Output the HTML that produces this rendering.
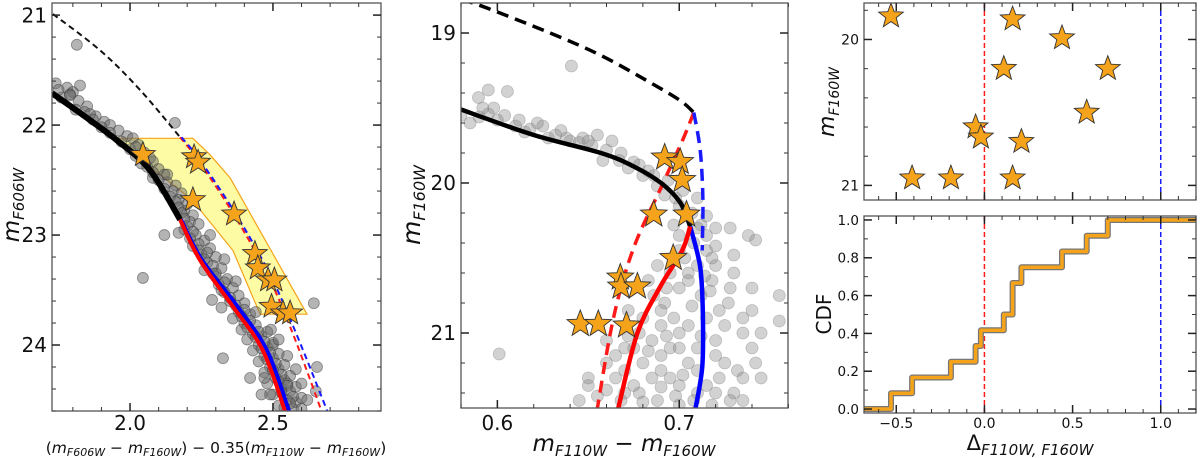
<!DOCTYPE html>
<html><head><meta charset="utf-8"><style>
body{margin:0;background:#fff}
svg{display:block;font-family:"DejaVu Sans","Liberation Sans",sans-serif}
</style></head><body>
<svg id="fig" width="1200" height="458" viewBox="0 0 1200 458" xmlns="http://www.w3.org/2000/svg"></svg>
<script>
// ---------- DATA ----------
const leftStarsX=[2.045,2.224,2.238,2.22,2.364,2.437,2.447,2.483,2.505,2.495,2.535,2.56];
const leftStarsY=[22.27,22.29,22.34,22.68,22.81,23.17,23.30,23.41,23.41,23.65,23.71,23.71];
const leftPts=[[1.74,21.62],[1.78,21.66],[1.80,21.70],[1.76,21.75],[1.82,21.78],[1.85,21.83],[1.84,21.88],[1.79,21.72],[1.88,21.92],[1.91,21.97],[1.93,22.0],[1.96,22.05],[1.99,22.1],[2.01,22.12],[2.03,22.18],[2.0,22.22],[2.05,22.25],[2.07,22.3],[2.04,22.35],[2.1,22.4],[2.12,22.45],[2.08,22.48],[2.13,22.52],[2.16,22.55],[2.15,22.6],[2.18,22.62],[2.17,22.68],[2.2,22.72],[2.19,22.78],[2.22,22.82],[2.21,22.88],[2.24,22.9],[2.19,22.95],[2.23,23.0],[2.26,23.05],[2.22,23.1],[2.28,23.12],[2.25,23.18],[2.3,23.2],[2.27,23.25],[2.32,23.3],[2.26,23.32],[2.3,23.38],[2.34,23.4],[2.31,23.45],[2.36,23.48],[2.33,23.52],[2.38,23.55],[2.35,23.6],[2.4,23.62],[2.32,23.66],[2.38,23.7],[2.42,23.72],[2.36,23.76],[2.4,23.8],[2.44,23.82],[2.39,23.86],[2.43,23.9],[2.46,23.92],[2.41,23.95],[2.45,24.0],[2.48,24.02],[2.43,24.05],[2.47,24.1],[2.5,24.12],[2.45,24.15],[2.49,24.2],[2.52,24.22],[2.47,24.25],[2.51,24.3],[2.54,24.32],[2.48,24.35],[2.53,24.4],[2.56,24.42],[2.5,24.45],[2.55,24.5],[2.58,24.52],[2.52,24.55],[2.57,24.58],[2.6,24.48],[2.58,24.38],[2.56,24.28],[2.54,24.18],[2.52,24.08],[2.5,23.98],[2.48,23.88],[2.28,23.0],[2.33,23.22],[2.37,23.42],[2.29,23.35],[2.44,23.7],[2.5,24.0],[2.55,24.35],[2.42,24.3],[2.46,24.45],[2.6,24.58],
[1.75,21.68],[1.79,21.73],[1.81,21.86],[1.86,21.9],[1.87,21.95],[1.90,22.02],[1.93,22.07],[1.97,22.15],[2.02,22.2],[2.02,22.28],[2.08,22.33],[2.06,22.38],[2.08,22.43],[2.1,22.5],[2.12,22.58],[2.14,22.65],[2.16,22.7],[2.17,22.75],[2.18,22.8],[2.19,22.85],[2.2,22.92],[2.22,22.97],[2.21,23.03],[2.24,23.08],[2.24,23.14],[2.27,23.16],[2.26,23.22],[2.29,23.28],[2.3,23.35],[2.33,23.43],[2.32,23.5],[2.35,23.57],[2.37,23.64],[2.4,23.68],[2.39,23.74],[2.42,23.78],[2.41,23.84],[2.45,23.88],[2.44,23.93],[2.47,23.97],[2.46,24.03],[2.49,24.07],[2.48,24.13],[2.51,24.17],[2.5,24.23],[2.53,24.27],[2.52,24.33],[2.55,24.37],[2.53,24.43],[2.57,24.47],[2.56,24.53],[2.54,24.57],[2.62,24.5],[2.6,24.35],[2.58,24.22],[2.55,24.1],[2.52,23.95],[2.49,24.45],[2.47,24.3],
[1.814,21.27],[1.825,21.64],[2.157,21.98],[2.13,22.45],[2.12,23.0],[2.045,23.39],[2.17,22.98],[2.287,23.59],[2.325,24.12],[2.493,23.86],[2.643,23.62],[2.654,24.2],[2.65,24.42]];
const leftBlackSolid=[[1.727,21.71],[1.836,21.91],[1.955,22.14],[2.07,22.41],[2.175,22.86]];
const leftRedSolid=[[2.175,22.86],[2.245,23.23],[2.36,23.65],[2.465,24.05],[2.542,24.6]];
const leftBlueSolid=[[2.178,22.86],[2.25,23.22],[2.37,23.63],[2.479,24.05],[2.556,24.6]];
const leftBlackDash=[[1.73,20.99],[1.895,21.32],[2.035,21.68],[2.175,22.11]];
const leftRedDash=[[2.175,22.11],[2.238,22.32],[2.36,22.8],[2.479,23.35],[2.57,23.9],[2.67,24.6]];
const leftBlueDash=[[2.18,22.11],[2.245,22.32],[2.368,22.8],[2.488,23.35],[2.582,23.9],[2.69,24.6]];
const leftBox=[[1.958,22.12],[2.22,22.12],[2.28,22.27],[2.35,22.48],[2.619,23.72],[2.455,23.72],[2.36,23.14],[2.217,22.68],[2.094,22.43]];
const midStarsX=[0.692,0.7005,0.7016,0.686,0.704,0.6967,0.6676,0.668,0.677,0.6456,0.6555,0.671];
const midStarsY=[19.83,19.86,19.98,20.21,20.21,20.5,20.63,20.69,20.69,20.94,20.94,20.95];
const midPts=[[0.585,19.6],[0.59,19.56],[0.595,19.54],[0.6,19.58],[0.598,19.5],[0.604,19.55],[0.61,19.62],[0.595,19.38],[0.6055,19.39],[0.5896,19.43],[0.615,19.66],[0.622,19.6],[0.628,19.7],[0.635,19.65],[0.64,19.72],[0.647,19.7],[0.652,19.75],[0.655,19.68],[0.66,19.78],[0.663,19.72],[0.658,19.85],[0.668,19.8],[0.672,19.9],[0.675,19.86],[0.68,19.95],[0.683,19.92],[0.688,20.02],[0.692,20.08],[0.694,19.98],[0.698,20.1],[0.7,20.15],[0.702,20.05],[0.707,20.2],[0.71,20.1],[0.712,20.28],[0.715,20.22],[0.697,20.28],[0.6407,19.22],[0.601,21.14],
[0.612,19.58],[0.618,19.64],[0.625,19.62],[0.632,19.68],[0.638,19.7],[0.645,19.73],[0.65,19.72],[0.667,19.85],[0.678,19.88],[0.686,19.95],[0.58,19.55],[0.592,19.5],
[0.66,21.2],[0.665,21.3],[0.67,21.25],[0.675,21.1],[0.68,21.2],[0.685,21.05],[0.69,21.15],[0.695,21.3],[0.7,21.0],[0.705,21.2],[0.71,21.1],[0.715,21.35],[0.72,21.05],[0.725,21.2],[0.73,21.4],[0.735,21.0],[0.74,21.1],[0.745,21.3],[0.65,21.35],[0.655,21.42],[0.645,21.45],[0.668,21.45],[0.678,21.4],[0.688,21.45],[0.698,21.42],[0.708,21.45],[0.718,21.48],[0.728,21.45],[0.692,20.8],[0.7,20.7],[0.705,20.6],[0.712,20.75],[0.718,20.65],[0.722,20.85],[0.728,20.7],[0.735,20.9],[0.69,20.95],[0.68,20.9],[0.686,20.75],[0.695,20.6],[0.703,20.5],[0.708,20.4],[0.715,20.45],[0.72,20.55],[0.73,20.6],[0.738,20.35],[0.742,20.38],[0.755,20.92],[0.745,21.0],[0.678,21.0],[0.672,20.85],[0.688,20.55],[0.685,21.3],[0.675,21.35],[0.695,21.1],[0.705,20.95],[0.715,20.9],[0.725,20.95],[0.732,21.25],[0.7,21.35],[0.71,21.25],[0.66,21.05],[0.72,20.3],[0.715,20.35],[0.72,21.15],[0.735,21.3],[0.69,21.25],[0.7,21.1],
[0.665,21.15],[0.672,21.02],[0.683,21.12],[0.693,21.02],[0.702,21.28],[0.712,21.02],[0.722,21.3],[0.697,20.9],[0.707,20.82],[0.717,20.72],[0.727,20.8],[0.683,20.65],[0.693,20.7],[0.7,20.45],[0.71,20.55],[0.718,20.5],[0.73,20.48],[0.74,20.7],[0.74,20.85],[0.65,21.3],[0.66,21.38],[0.67,21.4],[0.68,21.46],[0.69,21.36],[0.7,21.48],[0.71,21.4],[0.72,21.4],[0.735,21.45],[0.742,21.2],[0.67,21.1],[0.69,20.85],[0.705,20.65],[0.714,20.62],[0.7,20.35],[0.72,20.42],[0.71,20.3],[0.728,20.3],[0.755,20.75]];
const midBlackDash=[[0.58,18.79],[0.589,18.81],[0.629,19.0],[0.657,19.15],[0.684,19.33],[0.7005,19.45],[0.708,19.53]];
const midRedDash=[[0.708,19.53],[0.702,19.71],[0.69,20.03],[0.675,20.43],[0.664,20.89],[0.655,21.5]];
const midBlueDash=[[0.708,19.53],[0.7115,19.78],[0.713,20.11],[0.7126,20.45]];
const midBlackSolid=[[0.58,19.51],[0.62,19.68],[0.657,19.80],[0.675,19.89],[0.69,20.0],[0.7005,20.13],[0.706,20.29]];
const midRedSolid=[[0.706,20.29],[0.7016,20.45],[0.6896,20.69],[0.677,21.0],[0.6665,21.5]];
const midBlueSolid=[[0.706,20.29],[0.7115,20.56],[0.713,20.89],[0.7126,21.23],[0.709,21.5]];
const deltaVals=[-0.53,0.16,0.44,0.11,0.70,0.58,-0.05,-0.02,0.21,-0.41,-0.19,0.16];
const deltaMags=[19.84,19.86,19.99,20.2,20.2,20.5,20.6,20.67,20.7,20.95,20.95,20.95];
const xTicksLeft=[2.0,2.5], yTicksLeft=[21,22,23,24];
const xTicksMid=[0.6,0.7], yTicksMid=[19,20,21];
const xTicksRight=[-0.5,0.0,0.5,1.0], yTicksRT=[20,21], yTicksRB=[0.0,0.2,0.4,0.6,0.8,1.0];

// ---------- HELPERS ----------
const NS="http://www.w3.org/2000/svg";
const svg=document.getElementById('fig');
function mk(tag,attrs,parent){const e=document.createElementNS(NS,tag);for(const k in attrs)e.setAttribute(k,attrs[k]);(parent||svg).appendChild(e);return e;}
function lin(d0,d1,r0,r1){return v=>r0+(v-d0)*(r1-r0)/(d1-d0);}
function pathD(pts,sx,sy){return pts.map((p,i)=>(i?'L':'M')+sx(p[0]).toFixed(1)+' '+sy(p[1]).toFixed(1)).join(' ');}
function smoothD(pts,sx,sy){const P=pts.map(p=>[sx(p[0]),sy(p[1])]);let d='M'+P[0][0].toFixed(1)+' '+P[0][1].toFixed(1);
  for(let i=0;i<P.length-1;i++){const p0=P[i-1]||P[i],p1=P[i],p2=P[i+1],p3=P[i+2]||P[i+1];
    const c1=[p1[0]+(p2[0]-p0[0])/6,p1[1]+(p2[1]-p0[1])/6],c2=[p2[0]-(p3[0]-p1[0])/6,p2[1]-(p3[1]-p1[1])/6];
    d+=' C'+c1.map(v=>v.toFixed(1)).join(' ')+' '+c2.map(v=>v.toFixed(1)).join(' ')+' '+p2[0].toFixed(1)+' '+p2[1].toFixed(1);}return d;}
function starD(cx,cy,R){const r=R*0.42;let d='';for(let i=0;i<10;i++){const a=-Math.PI/2+i*Math.PI/5;const rr=i%2?r:R;d+=(i?'L':'M')+(cx+rr*Math.cos(a)).toFixed(1)+' '+(cy+rr*Math.sin(a)).toFixed(1);}return d+'Z';}
function frame(g,x0,y0,x1,y1,name){const r=mk('rect',{x:x0,y:y0,width:x1-x0,height:y1-y0,fill:'none',stroke:'#555','stroke-width':1.3},g);}
function ticksX(g,sx,y0,y1,majors,minorStart,minorEnd,minorStep,fs,lblY,fmt,both){
  for(let v=minorStart;v<=minorEnd+1e-9;v+=minorStep){const x=sx(v);mk('line',{x1:x,x2:x,y1:y1,y2:y1-4,stroke:'#333','stroke-width':1},g);if(both)mk('line',{x1:x,x2:x,y1:y0,y2:y0+4,stroke:'#333','stroke-width':1},g);}
  majors.forEach(v=>{const x=sx(v);mk('line',{x1:x,x2:x,y1:y1,y2:y1-8,stroke:'#222','stroke-width':1.5},g);if(both)mk('line',{x1:x,x2:x,y1:y0,y2:y0+8,stroke:'#222','stroke-width':1.5},g);
    if(lblY){const t=mk('text',{x:x,y:lblY,'font-size':fs,'text-anchor':'middle',fill:'#111'},g);t.textContent=fmt(v);}});
}
function ticksY(g,sy,x0,x1,majors,minorStart,minorEnd,minorStep,fs,fmt){
  for(let v=minorStart;v<=minorEnd+1e-9;v+=minorStep){const y=sy(v);mk('line',{x1:x0,x2:x0+4,y1:y,y2:y,stroke:'#333','stroke-width':1},g);mk('line',{x1:x1,x2:x1-4,y1:y,y2:y,stroke:'#333','stroke-width':1},g);}
  majors.forEach(v=>{const y=sy(v);mk('line',{x1:x0,x2:x0+8,y1:y,y2:y,stroke:'#222','stroke-width':1.5},g);mk('line',{x1:x1,x2:x1-8,y1:y,y2:y,stroke:'#222','stroke-width':1.5},g);
    const t=mk('text',{x:x0-5,y:y+fs*0.36,'font-size':fs,'text-anchor':'end',fill:'#111'},g);t.textContent=fmt(v);});
}
function line(g,pts,sx,sy,col,w,dash,name,smooth){const p=mk('path',{d:smooth?smoothD(pts,sx,sy):pathD(pts,sx,sy),fill:'none',stroke:col,'stroke-width':w,'stroke-linejoin':'round'},g);if(dash)p.setAttribute('stroke-dasharray',dash);}
function stars(g,xs,ys,sx,sy,R){xs.forEach((v,i)=>{const s=mk('path',{d:starD(sx(v),sy(ys[i]),R),fill:'#f5a31a',stroke:'#333','stroke-width':0.9},g);});}
function clip(id,x0,y0,x1,y1){const c=mk('clipPath',{id:id});mk('rect',{x:x0,y:y0,width:x1-x0,height:y1-y0},c);}

// ---------- LEFT PANEL ----------
(function(){
  const X0=52,X1=381,Y0=3,Y1=411;
  const sx=lin(1.727,2.878,X0,X1), sy=lin(20.89,24.6,Y0,Y1);
  const g=mk('g',{});
  clip('cl',X0,Y0,X1,Y1);
  const c=mk('g',{'clip-path':'url(#cl)'},g);
  const box=mk('path',{d:pathD(leftBox,sx,sy)+'Z',fill:'#fdfb9a','fill-opacity':0.9,stroke:'#f5a31a','stroke-width':1.2},c);
  
  leftPts.forEach(p=>{const e=mk('circle',{cx:sx(p[0]),cy:sy(p[1]),r:5.5,fill:'#6a6a6a','fill-opacity':0.5,stroke:'#333','stroke-opacity':0.5,'stroke-width':0.8},c);});
  line(c,leftBlackDash,sx,sy,'#111',2,'6,4','black-dashed-isochrone',true);
  line(c,leftRedDash,sx,sy,'#ff1a1a',2,'6,4','red-dashed-isochrone',true);
  line(c,leftBlueDash,sx,sy,'#1a1aff',2,'6,4','blue-dashed-isochrone',true);
  line(c,leftBlackSolid,sx,sy,'#000',6,null,'black-isochrone',true);
  line(c,leftBlueSolid,sx,sy,'#0000ff',4,null,'blue-isochrone',true);
  line(c,leftRedSolid,sx,sy,'#ff0000',4,null,'red-isochrone',true);
  stars(c,leftStarsX,leftStarsY,sx,sy,13);
  frame(g,X0,Y0,X1,Y1,'left-plot-frame');
  ticksX(g,sx,Y0,Y1,xTicksLeft,1.8,2.8,0.1,20,430,v=>v.toFixed(1),true);
  ticksY(g,sy,X0,X1,yTicksLeft,21,24.6,0.2,20,v=>String(v));
  const yl=mk('text',{x:0,y:0,'font-size':23,transform:'translate(19,205) rotate(-90)','text-anchor':'middle',fill:'#111'},g);
  yl.innerHTML='<tspan font-style="italic">m</tspan><tspan font-size="15" font-style="italic" dy="5">F606W</tspan>';
  
  const xl=mk('text',{x:216,y:453,'font-size':15.5,'text-anchor':'middle',fill:'#111'},g);
  xl.innerHTML='(<tspan font-style="italic">m</tspan><tspan font-size="11" font-style="italic" dy="3">F606W</tspan><tspan dy="-3"> − </tspan><tspan font-style="italic">m</tspan><tspan font-size="11" font-style="italic" dy="3">F160W</tspan><tspan dy="-3">) − 0.35(</tspan><tspan font-style="italic">m</tspan><tspan font-size="11" font-style="italic" dy="3">F110W</tspan><tspan dy="-3"> − </tspan><tspan font-style="italic">m</tspan><tspan font-size="11" font-style="italic" dy="3">F160W</tspan><tspan dy="-3">)</tspan>';
  
})();

// ---------- MIDDLE PANEL ----------
(function(){
  const X0=461,X1=788,Y0=3,Y1=408;
  const sx=lin(0.58,0.7598,X0,X1), sy=lin(18.8,21.5,Y0,Y1);
  const g=mk('g',{});
  clip('cm',X0,Y0,X1,Y1);
  const c=mk('g',{'clip-path':'url(#cm)'},g);
  midPts.forEach(p=>{const e=mk('circle',{cx:sx(p[0]),cy:sy(p[1]),r:6,fill:'#888','fill-opacity':0.38,stroke:'#777','stroke-opacity':0.4,'stroke-width':0.8},c);});
  line(c,midBlackDash,sx,sy,'#000',3.5,'12,7','black-dashed-isochrone',true);
  line(c,midRedDash,sx,sy,'#ff1a1a',3.5,'12,7','red-dashed-isochrone',true);
  line(c,midBlueDash,sx,sy,'#1a1aff',3.5,'12,7','blue-dashed-isochrone',true);
  line(c,midBlackSolid,sx,sy,'#000',4.5,null,'black-isochrone',true);
  line(c,midBlueSolid,sx,sy,'#0000ff',4.5,null,'blue-isochrone',true);
  line(c,midRedSolid,sx,sy,'#ff0000',4.5,null,'red-isochrone',true);
  stars(c,midStarsX,midStarsY,sx,sy,14);
  frame(g,X0,Y0,X1,Y1,'middle-plot-frame');
  ticksX(g,sx,Y0,Y1,xTicksMid,0.58,0.76,0.02,20,430,v=>v.toFixed(1),true);
  ticksY(g,sy,X0,X1,yTicksMid,19,21.4,0.2,20,v=>String(v));
  const yl=mk('text',{x:0,y:0,'font-size':25,transform:'translate(420,205) rotate(-90)','text-anchor':'middle',fill:'#111'},g);
  yl.innerHTML='<tspan font-style="italic">m</tspan><tspan font-size="16" font-style="italic" dy="5">F160W</tspan>';
  
  const xl=mk('text',{x:624,y:451,'font-size':23,'text-anchor':'middle',fill:'#111'},g);
  xl.innerHTML='<tspan font-style="italic">m</tspan><tspan font-size="15" font-style="italic" dy="5">F110W</tspan><tspan dy="-5"> − </tspan><tspan font-style="italic">m</tspan><tspan font-size="15" font-style="italic" dy="5">F160W</tspan>';
  
})();

// ---------- RIGHT TOP ----------
const rsx=lin(-0.683,1.2,864,1196);
(function(){
  const X0=864,X1=1196,Y0=3,Y1=200;
  const sy=lin(19.75,21.1,Y0,Y1);
  const g=mk('g',{});
  clip('crt',X0,Y0,X1,Y1);
  const c=mk('g',{'clip-path':'url(#crt)'},g);
  const r=mk('line',{x1:rsx(0),x2:rsx(0),y1:Y0,y2:Y1,stroke:'#ff1a1a','stroke-width':1.5,'stroke-dasharray':'5,3'},c);
  const b=mk('line',{x1:rsx(1),x2:rsx(1),y1:Y0,y2:Y1,stroke:'#1a1aff','stroke-width':1.5,'stroke-dasharray':'5,3'},c);
  stars(c,deltaVals,deltaMags,rsx,sy,13);
  frame(g,X0,Y0,X1,Y1,'top-right-plot-frame');
  ticksX(g,rsx,Y0,Y1,xTicksRight,-0.6,1.2,0.1,14,null,null,true);
  ticksY(g,sy,X0,X1,yTicksRT,19.8,21.0,0.2,14,v=>String(v));
  const yl=mk('text',{x:0,y:0,'font-size':22,transform:'translate(834,102) rotate(-90)','text-anchor':'middle',fill:'#111'},g);
  yl.innerHTML='<tspan font-style="italic">m</tspan><tspan font-size="14" font-style="italic" dy="5">F160W</tspan>';
  
})();

// ---------- RIGHT BOTTOM (CDF) ----------
(function(){
  const X0=864,X1=1196,Y0=216,Y1=413;
  const sy=lin(-0.021,1.021,Y1,Y0);
  const g=mk('g',{});
  clip('crb',X0,Y0,X1,Y1);
  const c=mk('g',{'clip-path':'url(#crb)'},g);
  const r=mk('line',{x1:rsx(0),x2:rsx(0),y1:Y0,y2:Y1,stroke:'#ff1a1a','stroke-width':1.5,'stroke-dasharray':'5,3'},c);
  const b=mk('line',{x1:rsx(1),x2:rsx(1),y1:Y0,y2:Y1,stroke:'#1a1aff','stroke-width':1.5,'stroke-dasharray':'5,3'},c);
  const sorted=deltaVals.slice().sort((a,b)=>a-b);const n=sorted.length;
  const pts=[[-0.8,0]];sorted.forEach((v,i)=>{pts.push([v,i/n]);pts.push([v,(i+1)/n]);});pts.push([1.3,1]);
  line(c,pts,rsx,sy,'#777',6,null,'cdf-outline');
  line(c,pts,rsx,sy,'#f5a31a',3.5,null,'cdf-step-line');
  frame(g,X0,Y0,X1,Y1,'bottom-right-plot-frame');
  ticksX(g,rsx,Y0,Y1,xTicksRight,-0.6,1.2,0.1,14,428,v=>v.toFixed(1).replace('-','−'),true);
  ticksY(g,sy,X0,X1,yTicksRB,0,1.0,0.1,13.5,v=>v.toFixed(1));
  const yl=mk('text',{x:0,y:0,'font-size':20,transform:'translate(831,314) rotate(-90)','text-anchor':'middle',fill:'#111'},g);
  yl.textContent='CDF';
  const xl=mk('text',{x:1030,y:450,'font-size':21,'text-anchor':'middle',fill:'#111'},g);
  xl.innerHTML='Δ<tspan font-size="15" font-style="italic" dy="5">F110W, F160W</tspan>';
  
})();
</script>
</body></html>
